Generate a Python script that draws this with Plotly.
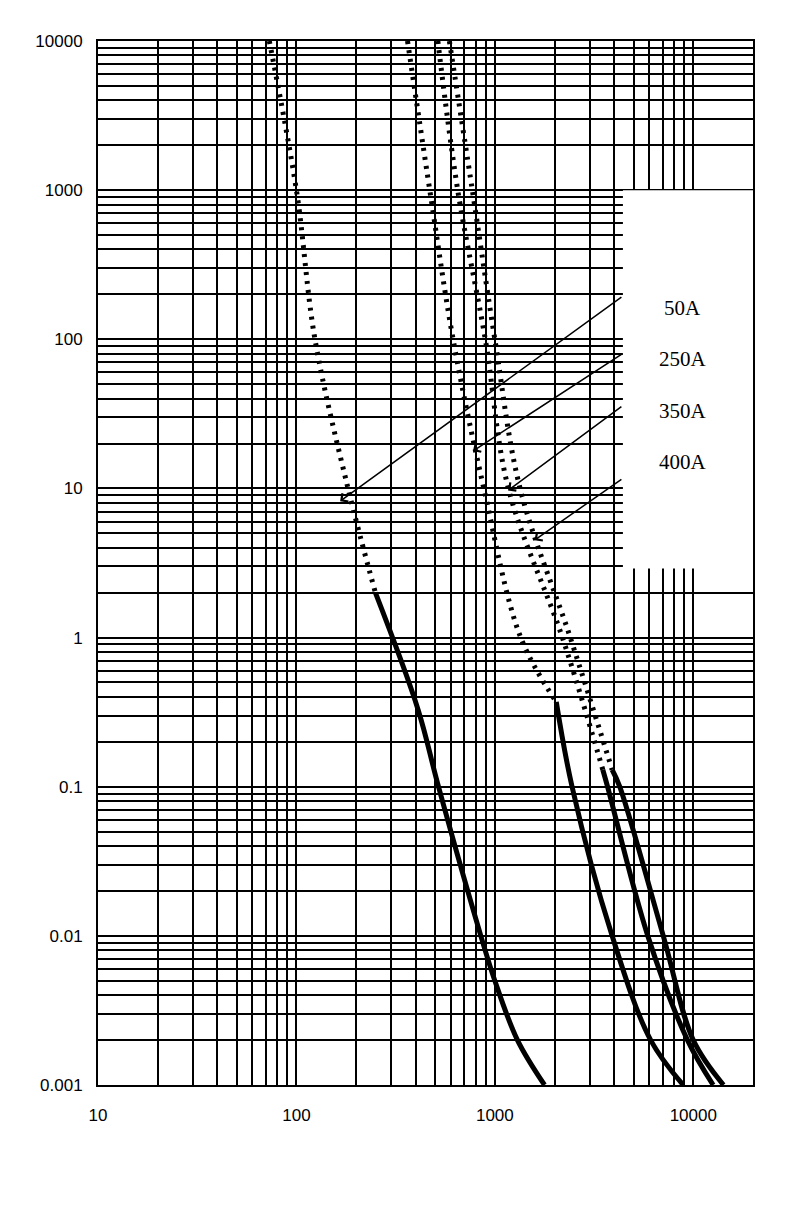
import numpy as np
import plotly.graph_objects as go

# current (A) vs time (s); dotted = upper part, solid = lower part
c50_dot_x = [73, 100, 124, 182, 250]
c50_dot_y = [10000, 1000, 100, 10, 2]
c50_sol_x = [250, 410, 520, 850, 1000, 1300, 1780]
c50_sol_y = [2, 0.33, 0.1, 0.01, 0.005, 0.002, 0.001]

c250_dot_x = [363, 470, 616, 880, 1350, 2040]
c250_dot_y = [10000, 1000, 100, 10, 1, 0.37]
c250_sol_x = [2040, 2450, 3900, 6100, 8900]
c250_sol_y = [0.37, 0.1, 0.01, 0.002, 0.001]

c350_dot_x = [516, 650, 895, 1170, 2190, 3500]
c350_dot_y = [10000, 1000, 100, 10, 1, 0.13]
c350_sol_x = [3500, 3700, 5900, 9350, 12600]
c350_sol_y = [0.13, 0.1, 0.01, 0.002, 0.001]

c400_dot_x = [590, 770, 1000, 1340, 2400, 3900]
c400_dot_y = [10000, 1000, 100, 10, 1, 0.13]
c400_sol_x = [3900, 4260, 7060, 10000, 14200]
c400_sol_y = [0.13, 0.1, 0.01, 0.002, 0.001]

labels = ["50A", "250A", "350A", "400A"]
label_y = [162, 74, 33, 15]
arrow_start_y = [195, 80.5, 36, 11.7]
arrow_tip_x = [166, 776, 1165, 1585]
arrow_tip_y = [8.2, 17.8, 9.7, 4.5]

fig = go.Figure()
for dx, dy, sx, sy in [(c50_dot_x, c50_dot_y, c50_sol_x, c50_sol_y),
                       (c250_dot_x, c250_dot_y, c250_sol_x, c250_sol_y),
                       (c350_dot_x, c350_dot_y, c350_sol_x, c350_sol_y),
                       (c400_dot_x, c400_dot_y, c400_sol_x, c400_sol_y)]:
    fig.add_trace(go.Scatter(x=dx, y=dy, mode="lines", line_shape="spline",
                             line=dict(color="black", width=5, dash="3px,6px"), showlegend=False))
    fig.add_trace(go.Scatter(x=sx, y=sy, mode="lines", line_shape="spline",
                             line=dict(color="black", width=5), showlegend=False))

# white box behind the labels
fig.add_shape(type="rect", x0=4420, x1=20000, y0=2.9, y1=1000, xref="x", yref="y",
              fillcolor="white", line_width=0, layer="above")

for lab, ly, sy, tx, ty in zip(labels, label_y, arrow_start_y, arrow_tip_x, arrow_tip_y):
    fig.add_annotation(x=np.log10(8850), y=np.log10(ly), text=lab, showarrow=False,
                       font=dict(family="Liberation Serif", size=21, color="black"))
    fig.add_annotation(x=np.log10(tx), y=np.log10(ty), ax=np.log10(4420), ay=np.log10(sy),
                       axref="x", ayref="y", text="", showarrow=True, arrowhead=4,
                       arrowsize=1.3, arrowwidth=1.5, arrowcolor="black")

xt = [m * 10 ** e for e in range(1, 5) for m in range(1, 10)] + [20000]
xtt = [str(v) if v in (10, 100, 1000, 10000) else "" for v in xt]
yt = [m * 10.0 ** e for e in range(-3, 4) for m in range(1, 10)] + [10000]
ytt = [("%g" % v) if np.isclose(np.log10(v) % 1, 0) or np.isclose(np.log10(v) % 1, 1) else "" for v in yt]

fig.update_xaxes(type="log", range=[1, np.log10(20000)], tickmode="array", tickvals=xt, ticktext=xtt,
                 showgrid=True, gridcolor="black", gridwidth=1.5, showline=True, linecolor="black",
                 linewidth=2, mirror=True, ticks="outside", ticklen=14, tickcolor="rgba(0,0,0,0)",
                 zeroline=False, automargin=False)
fig.update_yaxes(type="log", range=[-3, 4], tickmode="array", tickvals=yt, ticktext=ytt,
                 showgrid=True, gridcolor="black", gridwidth=1.5, showline=True, linecolor="black",
                 linewidth=2, mirror=True, ticks="outside", ticklen=10, tickcolor="rgba(0,0,0,0)",
                 zeroline=False, automargin=False)
fig.update_layout(width=790, height=1205, margin=dict(l=90, r=45, t=33, b=128),
                  plot_bgcolor="white", paper_bgcolor="white",
                  font=dict(family="Liberation Sans", size=17, color="black"))
fig.write_html("out.html")
